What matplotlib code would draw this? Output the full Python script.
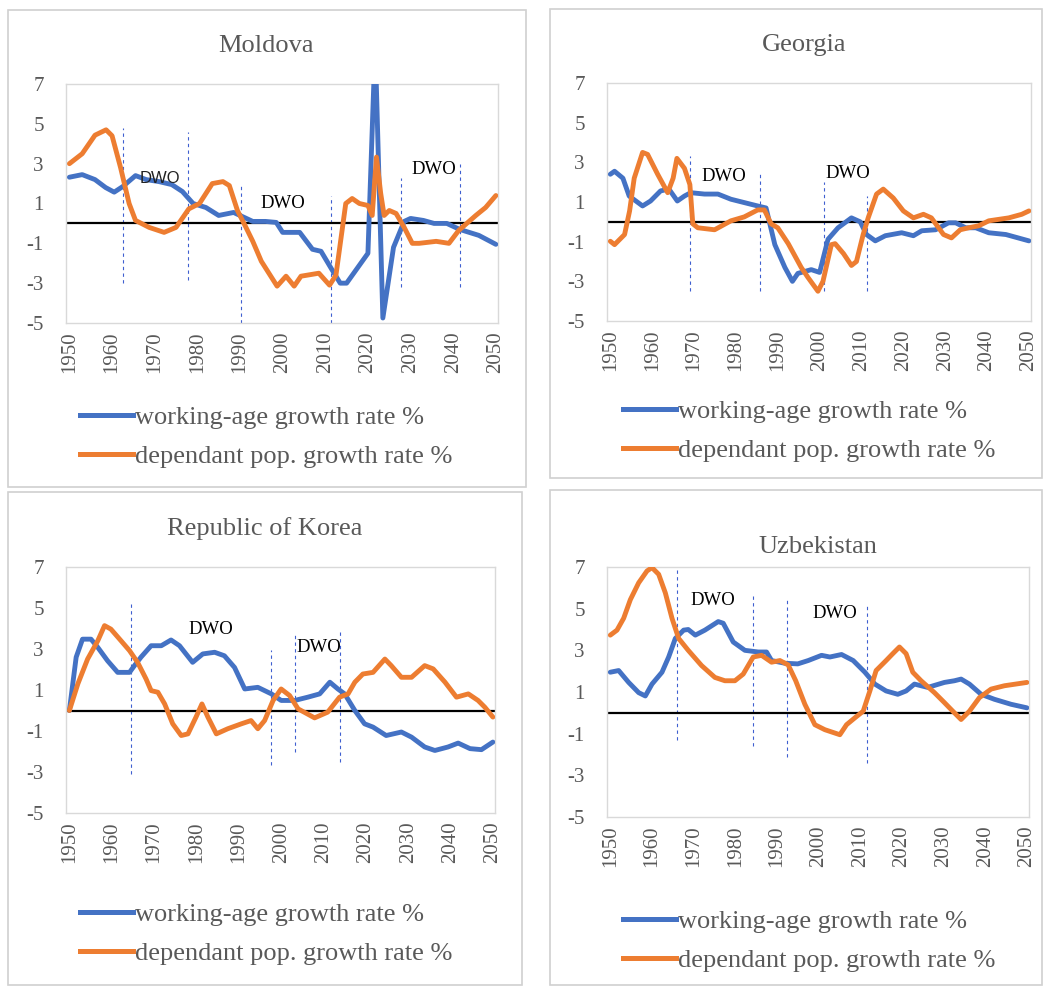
import matplotlib
matplotlib.use("Agg")
import matplotlib.pyplot as plt
from matplotlib.patches import Rectangle
from matplotlib.lines import Line2D

# ---------------- data ----------------
titles = ["Moldova", "Georgia", "Republic of Korea", "Uzbekistan"]
legend_labels = ["working-age growth rate %", "dependant pop. growth rate %"]
x_ticks = [1950, 1960, 1970, 1980, 1990, 2000, 2010, 2020, 2030, 2040, 2050]
y_ticks = [-5, -3, -1, 1, 3, 5, 7]

md_work_years = [1950, 1953, 1956, 1958.5, 1960.5, 1962.5, 1965.5, 1968, 1971, 1974, 1976.5, 1979, 1982,
                 1985, 1988.5, 1991, 1993, 1996, 1998.5, 2000, 2004, 2007, 2009, 2011.5, 2013.5, 2015,
                 2017.5, 2020, 2021.7, 2023.5, 2026, 2028.5, 2030, 2033, 2035.5, 2038.5, 2041.5, 2046, 2050]
md_work_vals = [2.32, 2.45, 2.2, 1.8, 1.57, 1.85, 2.4, 2.2, 2.1, 1.95, 1.6, 1.0, 0.8,
                0.4, 0.55, 0.3, 0.1, 0.1, 0.05, -0.45, -0.45, -1.3, -1.4, -2.3, -3.0, -3.0,
                -2.25, -1.5, 9.0, -4.75, -1.2, 0.1, 0.25, 0.15, 0.0, 0.0, -0.3, -0.6, -1.05]
md_dep_years = [1950, 1953, 1956, 1958.6, 1960, 1962, 1964, 1965.5, 1968.7, 1972.2, 1975, 1978, 1980.5,
                1983.5, 1986, 1987.5, 1989.4, 1991.4, 1993, 1995, 1998.7, 2000.8, 2002.7, 2004.3, 2008.5,
                2011, 2012.5, 2014.8, 2016.3, 2018, 2020, 2021, 2022, 2023, 2023.8, 2025, 2026.6, 2028.5,
                2030.4, 2032, 2036, 2039, 2041.3, 2045.3, 2047.6, 2050]
md_dep_vals = [3.0, 3.5, 4.43, 4.7, 4.4, 2.8, 1.0, 0.15, -0.2, -0.45, -0.2, 0.73, 1.0,
               2.0, 2.1, 1.9, 0.65, -0.2, -0.9, -1.9, -3.15, -2.65, -3.15, -2.65, -2.5,
               -3.1, -2.6, 1.0, 1.25, 1.0, 0.9, 0.4, 3.33, 1.5, 0.4, 0.65, 0.5, -0.2,
               -1.0, -1.0, -0.9, -1.0, -0.35, 0.4, 0.8, 1.4]

ge_work_years = [1950, 1951, 1953, 1954.5, 1957.7, 1959.6, 1962, 1964, 1966, 1967.7, 1969.2, 1972.5, 1975.7,
                 1978.8, 1982, 1985.2, 1987.2, 1989.3, 1991.7, 1993.5, 1994.8, 1998, 2000, 2002, 2004.4,
                 2007.6, 2009.7, 2011.2, 2013.3, 2015.7, 2019.6, 2022.4, 2024.4, 2027.7, 2030.8, 2032.5,
                 2034.9, 2037.3, 2040.4, 2044.5, 2050]
ge_work_vals = [2.4, 2.55, 2.2, 1.3, 0.8, 1.05, 1.56, 1.65, 1.05, 1.3, 1.47, 1.4, 1.4,
                1.14, 0.97, 0.8, 0.7, -1.15, -2.3, -3.0, -2.6, -2.41, -2.55, -0.88, -0.3,
                0.2, 0.0, -0.64, -0.96, -0.7, -0.55, -0.7, -0.45, -0.4, -0.05, -0.05,
                -0.3, -0.3, -0.55, -0.64, -0.96]
ge_dep_years = [1950, 1951, 1953.4, 1954.6, 1955.7, 1957.7, 1958.9, 1961.3, 1963.7, 1965, 1965.9, 1967.7,
                1969, 1969.7, 1970.9, 1974.9, 1978.8, 1982, 1985.2, 1986.8, 1988.4, 1990, 1992.5, 1995.6,
                1997.2, 1999.6, 2000.8, 2002.8, 2003.7, 2005.7, 2007.6, 2008.8, 2010.4, 2011.6, 2013.6,
                2015.2, 2017.6, 2020, 2022.4, 2024.8, 2026.7, 2029.6, 2031.5, 2033.6, 2035.6, 2038,
                2040.4, 2045.2, 2048.3, 2050]
ge_dep_vals = [-0.98, -1.15, -0.64, 0.55, 2.2, 3.5, 3.4, 2.4, 1.47, 2.2, 3.2, 2.7,
               1.88, -0.1, -0.3, -0.4, 0.05, 0.25, 0.6, 0.6, -0.1, -0.3, -1.1, -2.3,
               -2.8, -3.5, -3.0, -1.15, -1.1, -1.6, -2.2, -2.0, -0.64, 0.2, 1.4,
               1.65, 1.2, 0.55, 0.2, 0.38, 0.2, -0.64, -0.81, -0.4, -0.3, -0.2,
               0.05, 0.2, 0.38, 0.55]

kr_work_years = [1950, 1951.6, 1953.1, 1955.1, 1956.7, 1959, 1961.4, 1964.2, 1965.4, 1966.9, 1969.3, 1971.7,
                 1974, 1976, 1979.1, 1981.5, 1984.3, 1986.6, 1989, 1991.4, 1994.5, 1997.7, 2000, 2003.2,
                 2006.3, 2009.1, 2011.5, 2013.4, 2015, 2017.4, 2019.7, 2021.7, 2024.8, 2028.4, 2030.8,
                 2033.9, 2036.3, 2039.4, 2041.8, 2044.6, 2047.3, 2050]
kr_work_vals = [0.0, 2.6, 3.48, 3.48, 3.08, 2.43, 1.86, 1.86, 2.2, 2.6, 3.16, 3.16,
                3.44, 3.16, 2.35, 2.76, 2.84, 2.67, 2.1, 1.05, 1.13, 0.81, 0.49, 0.49,
                0.65, 0.81, 1.38, 1.05, 0.81, 0.0, -0.65, -0.81, -1.22, -1.05, -1.3,
                -1.78, -1.95, -1.78, -1.59, -1.86, -1.91, -1.54]
kr_dep_years = [1950, 1952, 1954.3, 1956.7, 1958.3, 1959.8, 1962.2, 1964.2, 1966.1, 1968.1, 1969.3, 1970.9,
                1972.5, 1974.4, 1976.4, 1978, 1979.9, 1981.3, 1982.7, 1984.7, 1987.4, 1990.6, 1992.9,
                1994.5, 1996.1, 1998.1, 2000, 2002, 2004, 2007.9, 2011, 2013.8, 2015.8, 2017.4, 2019.3,
                2021.7, 2024.5, 2026, 2028.4, 2030.8, 2033.9, 2035.9, 2038.7, 2041.4, 2044.2, 2046.5,
                2048.1, 2050]
kr_dep_vals = [0.0, 1.3, 2.51, 3.4, 4.14, 3.97, 3.4, 2.92, 2.35, 1.54, 0.97, 0.89,
               0.32, -0.65, -1.22, -1.14, -0.32, 0.32, -0.32, -1.14, -0.89, -0.65, -0.49,
               -0.89, -0.49, 0.49, 1.05, 0.73, 0.08, -0.36, -0.08, 0.65, 0.81, 1.38, 1.78,
               1.86, 2.51, 2.19, 1.62, 1.62, 2.19, 2.03, 1.38, 0.65, 0.81, 0.49,
               0.16, -0.32]

uz_work_years = [1950, 1952, 1954.4, 1956.8, 1958.4, 1960, 1962.4, 1964, 1965.6, 1967.6, 1968.7, 1970.4,
                 1972.7, 1975.9, 1977.1, 1979.5, 1982.3, 1985.5, 1987.5, 1988.7, 1991.9, 1995, 1997.5,
                 2000.7, 2002.7, 2005.5, 2008.3, 2011.1, 2013.5, 2016.2, 2019, 2021, 2023, 2026.2, 2030.2,
                 2032.6, 2034.2, 2036.2, 2039, 2042.2, 2046.2, 2050]
uz_work_vals = [1.95, 2.03, 1.46, 0.97, 0.81, 1.38, 1.95, 2.68, 3.57, 3.97, 4.0, 3.73,
                3.97, 4.38, 4.3, 3.4, 3.0, 2.92, 2.92, 2.51, 2.38, 2.35, 2.51,
                2.76, 2.68, 2.8, 2.51, 1.95, 1.38, 1.05, 0.89, 1.05, 1.38, 1.22, 1.46,
                1.54, 1.62, 1.38, 0.89, 0.65, 0.41, 0.24]
uz_dep_years = [1950, 1951.6, 1953.2, 1954.8, 1956.8, 1958.8, 1960, 1961.6, 1963.2, 1964.8, 1966.4, 1968.7,
                1971.9, 1975.1, 1977.5, 1979.9, 1981.9, 1984.3, 1986.3, 1988.7, 1990.7, 1992.7, 1994.5,
                1996.7, 1999.1, 2001.5, 2005.1, 2006.7, 2008.7, 2010.7, 2012.3, 2013.8, 2016.2, 2017.8,
                2019.4, 2021, 2022.6, 2024.6, 2027.8, 2030.2, 2032.2, 2034.2, 2036.2, 2038.6, 2041.4,
                2044.6, 2050]
uz_dep_vals = [3.73, 3.97, 4.54, 5.43, 6.24, 6.81, 6.97, 6.65, 5.76, 4.54, 3.57, 3.0,
               2.27, 1.7, 1.54, 1.54, 1.86, 2.68, 2.76, 2.43, 2.51, 2.3, 1.54,
               0.41, -0.57, -0.81, -1.05, -0.57, -0.24, 0.08, 1.05, 2.03, 2.51, 2.84,
               3.16, 2.84, 1.95, 1.54, 0.97, 0.49, 0.08, -0.32, 0.08, 0.73, 1.14,
               1.3, 1.46]

# DWO boundary marks: (year, top, bottom)
md_marks = [(1962.6, 4.8, -3.0), (1977.9, 4.6, -2.85), (1990.2, 2.0, -5.0),
            (2011.4, 1.4, -5.0), (2027.8, 2.3, -3.2), (2041.6, 3.0, -3.2)]
ge_marks = [(1969.0, 3.3, -3.5), (1985.7, 2.4, -3.5), (2001.0, 2.0, -3.5), (2011.4, 1.3, -3.5)]
kr_marks = [(1964.6, 5.35, -3.08), (1997.7, 2.93, -2.66), (2003.2, 3.8, -2.0), (2013.8, 4.0, -2.5)]
uz_marks = [(1966.0, 6.9, -1.3), (1984.3, 5.7, -1.6), (1992.5, 5.5, -2.1), (2011.6, 5.27, -2.43)]

# DWO labels: (year, value)
md_labels = [(1971.3, 2.25), (2000.0, 1.0), (2035.5, 2.7)]
ge_labels = [(1977.0, 2.3), (2006.7, 2.45)]
kr_labels = [(1983.4, 3.97), (2009.0, 3.08)]
uz_labels = [(1974.6, 5.38), (2004.0, 4.78)]

# ---------------- style / layout ----------------
W, H = 1046, 988
BLUE = "#4472C4"
ORANGE = "#ED7D31"
GRAY = "#595959"
SERIF = "Liberation Serif"

fig = plt.figure(figsize=(W / 100, H / 100), dpi=100)


def fx(x):
    return x / W


def fy(y):
    return 1 - y / H


panels = [
    dict(box=(8, 10, 526, 487), ax=(66, 84, 498, 323), title=(266, 46),
         leg=(80, 437), wy=md_work_years, wv=md_work_vals, dy=md_dep_years, dv=md_dep_vals,
         marks=md_marks, labels=md_labels, sans_first=True),
    dict(box=(550, 9, 1042, 478), ax=(607, 83, 1031, 321), title=(804, 45),
         leg=(623, 431), wy=ge_work_years, wv=ge_work_vals, dy=ge_dep_years, dv=ge_dep_vals,
         marks=ge_marks, labels=ge_labels, sans_first=False),
    dict(box=(8, 492, 522, 985), ax=(66, 567, 495, 813), title=(265, 529),
         leg=(80, 934), wy=kr_work_years, wv=kr_work_vals, dy=kr_dep_years, dv=kr_dep_vals,
         marks=kr_marks, labels=kr_labels, sans_first=False),
    dict(box=(550, 490, 1042, 985), ax=(607, 567, 1029, 817), title=(818, 547),
         leg=(623, 941), wy=uz_work_years, wv=uz_work_vals, dy=uz_dep_years, dv=uz_dep_vals,
         marks=uz_marks, labels=uz_labels, sans_first=False),
]

for p, title in zip(panels, titles):
    bx0, by0, bx1, by1 = p["box"]
    fig.patches.append(Rectangle((fx(bx0), fy(by1)), fx(bx1 - bx0), (by1 - by0) / H,
                                 transform=fig.transFigure, fill=False,
                                 edgecolor="#d0d0d0", lw=1.2))
    ax0, ay0, ax1, ay1 = p["ax"]
    ax = fig.add_axes([fx(ax0), fy(ay1), fx(ax1 - ax0), (ay1 - ay0) / H])
    ax.set_xlim(1949.2, 2050.5)
    ax.set_ylim(-5, 7)
    for s in ax.spines.values():
        s.set_color("#d9d9d9")
        s.set_linewidth(1.0)
    ax.axhline(0, color="black", lw=1.6, zorder=2)
    for (yr, top, bot) in p["marks"]:
        ax.vlines(yr, bot, top, colors="#3f5fd0", linestyles=(0, (3, 3)), lw=0.8, zorder=1)
    ax.plot(p["wy"], p["wv"], color=BLUE, lw=3.5, solid_capstyle="round",
            solid_joinstyle="round", zorder=3)
    ax.plot(p["dy"], p["dv"], color=ORANGE, lw=3.5, solid_capstyle="round",
            solid_joinstyle="round", zorder=4)
    for i, (yr, v) in enumerate(p["labels"]):
        if p["sans_first"] and i == 0:
            ax.text(yr, v, "DWO", ha="center", va="center", fontsize=12,
                    family="Liberation Sans", color="#222222", zorder=5)
        else:
            ax.text(yr, v, "DWO", ha="center", va="center", fontsize=13.5,
                    family=SERIF, color="black", zorder=5)
    ax.set_xticks(x_ticks)
    ax.set_xticklabels([str(t) for t in x_ticks], rotation=90, family=SERIF,
                       fontsize=15, color=GRAY)
    ax.set_yticks(y_ticks)
    ax.set_yticklabels([str(t) for t in y_ticks], family=SERIF, fontsize=15, color=GRAY)
    ax.tick_params(axis="y", length=0, pad=16)
    ax.tick_params(axis="x", length=0, pad=6)
    ax.set_facecolor("white")

    tx, ty = p["title"]
    fig.text(fx(tx), fy(ty), title, ha="center", va="center", family=SERIF,
             fontsize=19, color=GRAY)

    lx, ly = p["leg"]
    fig.legend([Line2D([], [], color=BLUE, lw=3.6), Line2D([], [], color=ORANGE, lw=3.6)],
               legend_labels, loc="center left", bbox_to_anchor=(fx(lx), fy(ly)),
               bbox_transform=fig.transFigure, frameon=False, borderpad=0,
               borderaxespad=0, handlelength=2.0, handletextpad=0.1, labelspacing=0.6,
               prop=dict(family=SERIF, size=19), labelcolor=GRAY)

fig.savefig("out.png", dpi=100, facecolor="white")
